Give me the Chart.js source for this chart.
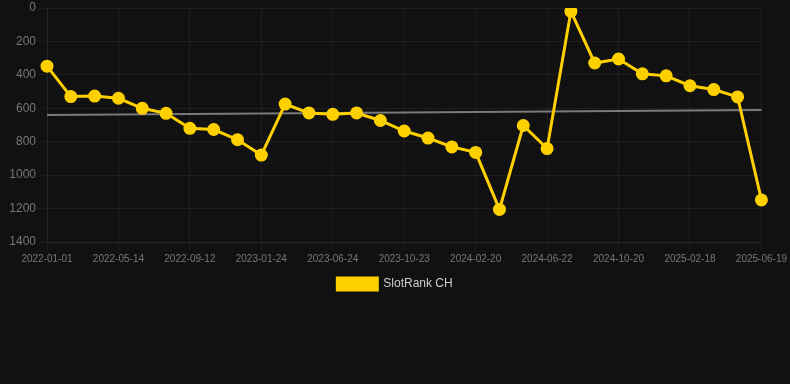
<!DOCTYPE html>
<html>
<head>
<meta charset="utf-8">
<script src="https://cdn.jsdelivr.net/npm/chart.js@4"></script>
<style>
  html, body { margin: 0; padding: 0; background: #111111; }
  #wrap { position: relative; width: 790px; height: 300px; }
</style>
</head>
<body>
<div id="wrap"><canvas id="c"></canvas></div>
<script>
const categories = [
  "2022-01-01","2022-02-14","2022-03-30","2022-05-14","2022-06-23","2022-08-02",
  "2022-09-12","2022-10-26","2022-12-10","2023-01-24","2023-03-10","2023-05-08",
  "2023-06-24","2023-08-03","2023-09-12","2023-10-23","2023-12-02","2024-01-11",
  "2024-02-20","2024-03-31","2024-05-11","2024-06-22","2024-08-01","2024-09-10",
  "2024-10-20","2024-12-01","2025-01-09","2025-02-18","2025-03-31","2025-05-10",
  "2025-06-19"
];
const rankValues = [
  348, 530, 527, 540, 600, 630, 720, 727, 788, 880, 575,
  628, 636, 628, 673, 736, 778, 831, 864, 1205, 703,
  841, 20, 329, 305, 394, 406, 465, 488, 532, 1148
];
const trendStart = 640;
const trendEnd = 610;
const trendValues = categories.map((_, i) => i === 0 ? trendStart : (i === categories.length - 1 ? trendEnd : null));
const yTicks = [0, 200, 400, 600, 800, 1000, 1200, 1400];

const FONT = "'Liberation Sans', Arial, Helvetica, sans-serif";

new Chart(document.getElementById('c'), {
  type: 'line',
  data: {
    labels: categories,
    datasets: [
      {
        label: 'SlotRank CH',
        data: rankValues,
        borderColor: '#FFD000',
        backgroundColor: '#FFD000',
        borderWidth: 3,
        pointRadius: 5,
        pointHoverRadius: 5,
        pointBackgroundColor: '#FFD000',
        pointBorderColor: '#FFD000',
        tension: 0,
        order: 1
      },
      {
        label: 'Trend',
        data: trendValues,
        borderColor: '#7a7a7a',
        backgroundColor: '#7a7a7a',
        borderWidth: 2,
        pointRadius: 0,
        spanGaps: true,
        tension: 0,
        order: 2
      }
    ]
  },
  options: {
    responsive: true,
    maintainAspectRatio: false,
    animation: false,
    layout: { padding: { left: 0, right: 0, top: 0, bottom: 0 } },
    plugins: {
      tooltip: { enabled: false },
      legend: {
        position: 'bottom',
        labels: {
          color: '#cccccc',
          font: { family: FONT, size: 12 },
          boxWidth: 40,
          boxHeight: 12,
          filter: (item) => item.text !== 'Trend'
        }
      }
    },
    scales: {
      x: {
        offset: false,
        grid: { color: 'rgba(255,255,255,0.05)', drawTicks: true, tickColor: 'rgba(255,255,255,0.05)' },
        border: { color: 'rgba(255,255,255,0.05)' },
        ticks: {
          color: '#777777',
          font: { family: FONT, size: 10 },
          autoSkip: false,
          maxRotation: 0,
          minRotation: 0,
          callback: function(value, index) { return index % 3 === 0 ? categories[index] : null; }
        }
      },
      y: {
        reverse: true,
        min: yTicks[0],
        max: yTicks[yTicks.length - 1],
        grid: { color: 'rgba(255,255,255,0.05)', tickColor: 'rgba(255,255,255,0.05)' },
        border: { color: 'rgba(255,255,255,0.05)' },
        afterBuildTicks: (axis) => { axis.ticks = yTicks.map(v => ({ value: v })); },
        afterFit: (axis) => { axis.width = 47; },
        ticks: {
          color: '#777777',
          font: { family: FONT, size: 12, lineHeight: 0.4 },
          callback: (v) => String(v)
        }
      }
    }
  }
});
</script>
</body>
</html>
